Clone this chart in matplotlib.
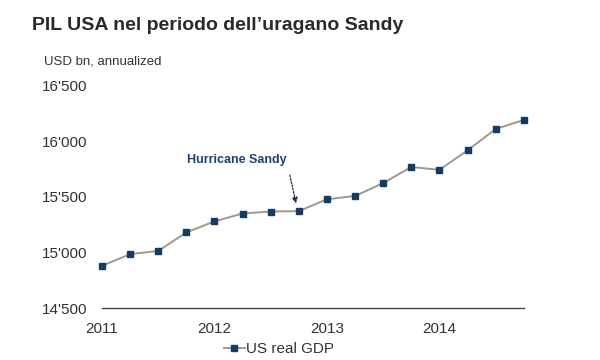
import matplotlib.pyplot as plt

plt.rcParams["font.family"] = ["Liberation Sans", "DejaVu Sans"]

# US real GDP, quarterly, USD bn annualized (Q1 2011 .. Q4 2014)
quarters = ["2011Q1", "2011Q2", "2011Q3", "2011Q4",
            "2012Q1", "2012Q2", "2012Q3", "2012Q4",
            "2013Q1", "2013Q2", "2013Q3", "2013Q4",
            "2014Q1", "2014Q2", "2014Q3", "2014Q4"]
gdp = [14880, 14985, 15014, 15181,
       15280, 15351, 15369, 15372,
       15479, 15509, 15625, 15770,
       15744, 15920, 16112, 16193]
year_labels = ["2011", "2012", "2013", "2014"]
ytick_vals = [14500, 15000, 15500, 16000, 16500]
sandy_idx = 7

line_color = "#a39787"
marker_color = "#173a60"
text_color = "#333333"

x = list(range(len(quarters)))

fig = plt.figure(figsize=(6, 3.6), dpi=100)
ax = fig.add_axes([0.17, 0.1444, 0.703, 0.617])

ax.plot(x, gdp, color=line_color, linewidth=1.4, marker="s", markersize=4.5,
        markerfacecolor=marker_color, markeredgecolor=marker_color,
        clip_on=False, label="US real GDP", zorder=3)

ax.set_xlim(0, len(quarters) - 1)
ax.set_ylim(14500, 16500)

ax.set_yticks(ytick_vals)
ax.set_yticklabels([f"{v // 1000}'{v % 1000:03d}" for v in ytick_vals],
                   ha="left", fontsize=11, color=text_color)
ax.tick_params(axis="y", length=0, pad=43)

ax.set_xticks([x[i] for i in range(0, len(quarters), 4)])
ax.set_xticklabels(year_labels, fontsize=11, color=text_color)
ax.tick_params(axis="x", length=0, pad=10)

for side in ["top", "right", "left"]:
    ax.spines[side].set_visible(False)
ax.spines["bottom"].set_color("#444444")
ax.spines["bottom"].set_linewidth(1.0)

# annotation: label to the upper left, dotted arrow down to the Q4 2012 point
ax.text(x[sandy_idx] - 2.2, gdp[sandy_idx] + 460, "Hurricane Sandy",
        ha="center", va="center", fontsize=9, fontweight="bold",
        color="#1f4270")
ax.annotate("", xy=(x[sandy_idx] - 0.1, gdp[sandy_idx] + 70),
            xytext=(x[sandy_idx] - 0.32, gdp[sandy_idx] + 325),
            arrowprops=dict(arrowstyle="-|>", color="#1f3050", lw=0.9,
                            linestyle=(0, (1.5, 1.2)), mutation_scale=8,
                            shrinkA=0, shrinkB=0))

fig.text(0.053, 0.928, "PIL USA nel periodo dell\u2019uragano Sandy",
         fontsize=14, fontweight="bold", color="#2a2a2a", va="center")
fig.text(0.073, 0.83, "USD bn, annualized", fontsize=9.5, color=text_color,
         va="center")

fig.legend(loc="center", bbox_to_anchor=(0.465, 0.03), frameon=False,
           fontsize=11, handlelength=1.4, handletextpad=0.1,
           labelcolor=text_color)

fig.savefig("out.png", dpi=100)
